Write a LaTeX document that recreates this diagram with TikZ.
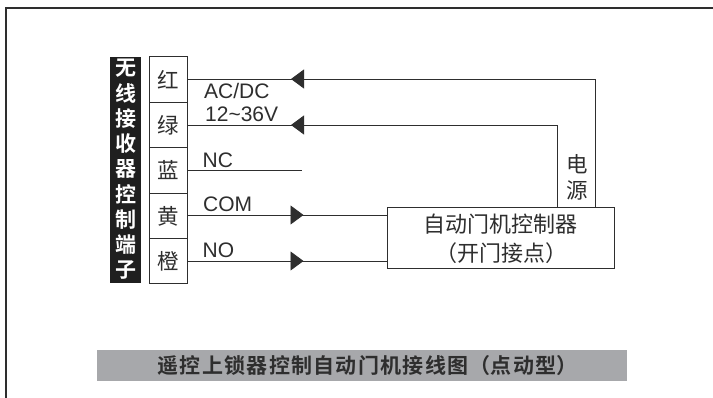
\documentclass[tikz,border=0pt]{standalone}
\usepackage{fontspec}
\usetikzlibrary{arrows.meta,calc}
\setmainfont{Liberation Sans}
\newfontfamily\cjk{Noto Sans CJK SC}
\newfontfamily\cjkb{Noto Sans CJK SC Bold}
\definecolor{ink}{gray}{0.18}
\definecolor{barg}{HTML}{A7A8AB}
\tikzset{
  x=1pt,y=-1pt,
  wire/.style={draw=ink,line width=0.9pt},
  term/.style={draw=ink,line width=0.9pt,fill=white,minimum width=38pt,minimum height=45.5pt,inner sep=0pt,outer sep=0pt,text=ink,font=\cjk\fontsize{21.5}{22}\selectfont},
  striplabel/.style={text=white,inner sep=0pt,font=\cjkb\fontsize{21}{21}\selectfont},
  wlabel/.style={text=ink,inner sep=0pt,anchor=base west,font=\fontsize{21}{21}\selectfont},
  clabel/.style={text=ink,inner sep=0pt,font=\cjk\fontsize{21.5}{22}\selectfont},
  headl/.style={-{Triangle[length=13pt,width=19pt]},wire},
}
\begin{document}
\begin{tikzpicture}
\useasboundingbox (0,0) rectangle (713,398);
\fill[white] (0,0) rectangle (713,398);
% outer frame
\coordinate (fbl) at (6,398);
\coordinate (ftl) at (6,8);
\coordinate (ftr) at (713,8);
\draw[draw=ink,line width=1.1pt] (fbl) -- (ftl) -- (ftr);
% black strip
\node[fill=black!88,minimum width=31pt,minimum height=226pt,inner sep=0pt,outer sep=0pt] (strip) at (125.5,170) {};
\foreach \t [count=\i from 0] in {无,线,接,收,器,控,制,端,子}{
  \node[striplabel] (s\i) at (125.5,{68+25.25*\i}) {\t};
}
% terminals
\node[term] (t1) at (168.5,79.5) {红};
\node[term] (t2) at (168.5,125) {绿};
\node[term] (t3) at (168.5,170.5) {蓝};
\node[term] (t4) at (168.5,216) {黄};
\node[term] (t5) at (168.5,261) {橙};
% controller
\node[draw=ink,line width=0.9pt,fill=white,minimum width=227pt,minimum height=61pt,inner sep=0pt,outer sep=0pt] (ctrl) at (500.5,237.5) {};
\node[clabel,font=\cjk\fontsize{22}{22}\selectfont] (c1) at (500,224) {自动门机控制器};
\node[clabel,font=\cjk\fontsize{22}{22}\selectfont] (c2) at (501,253) {（开门接点）};
% wires
\coordinate (r1) at (595,207);
\coordinate (r2) at (557,207);
\coordinate (a1) at (291,79);
\coordinate (a2) at (291,125);
\coordinate (a4) at (303.5,215);
\coordinate (a5) at (303.5,261);
\coordinate (nc) at (302,170);
\draw[wire] (r1) |- (t1.east |- a1);
\draw[wire] (r2) |- (t2.east |- a2);
\draw[wire] (t3.east |- nc) -- (nc);
\draw[wire] (t4.east |- a4) -- (ctrl.west |- a4);
\draw[wire] (t5.east |- a5) -- (ctrl.west |- a5);
\draw[headl] (a1 -| r2) ++(-240,0) -- (a1);
\draw[headl] (a2 -| r2) ++(-240,0) -- (a2);
\draw[headl] (t4.east |- a4) -- (a4);
\draw[headl] (t5.east |- a5) -- (a5);
% labels
\node[wlabel] (l1) at (204,98.5) {AC/DC};
\node[wlabel] (l2) at (205,122) {12\textasciitilde36V};
\node[wlabel] (l3) at (202.5,168) {NC};
\node[wlabel] (l4) at (203,212) {COM};
\node[wlabel] (l5) at (202.5,258) {NO};
\node[clabel] (p1) at (577,164) {电};
\node[clabel] (p2) at (577,190) {源};
% title bar
\node[fill=barg,minimum width=530pt,minimum height=31pt,inner sep=0pt] (bar) at (362,365.5) {};
\node[text=ink,inner sep=0pt,font=\cjkb\fontsize{21}{21}\selectfont] (title) at (367.5,365.5) {遥\kern1.3pt 控\kern1.3pt 上\kern1.3pt 锁\kern1.3pt 器\kern1.3pt 控\kern1.3pt 制\kern1.3pt 自\kern1.3pt 动\kern1.3pt 门\kern1.3pt 机\kern1.3pt 接\kern1.3pt 线\kern1.3pt 图\kern1.3pt （点\kern1.3pt 动\kern1.3pt 型）};
\end{tikzpicture}
\end{document}
